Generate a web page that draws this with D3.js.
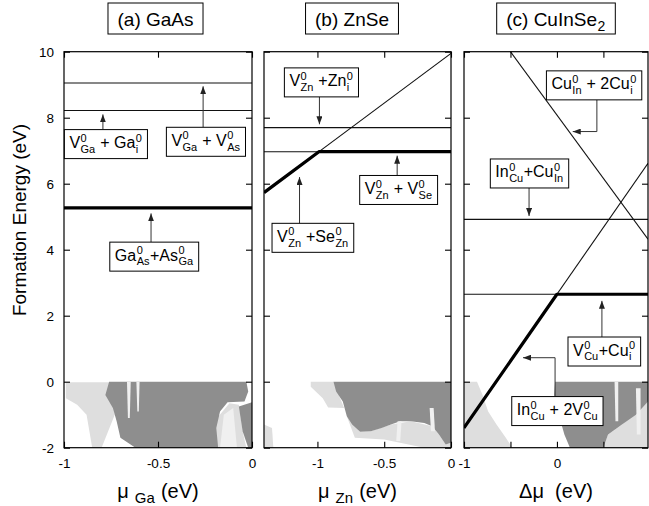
<!DOCTYPE html>
<html lang="en">
<head>
<meta charset="utf-8">
<style>
  body { margin: 0; background: #fff; }
  svg { font-family: 'Liberation Sans', Arial, sans-serif; background: #fff; }
  .frame { fill: none; stroke: #000; stroke-width: 1.2; }
  .tick line { stroke: #000; stroke-width: 1.1; }
  .tick text { font-size: 13.5px; fill: #000; }
  .domain { display: none; }
  .note-box { fill: #fff; stroke: #000; stroke-width: 1; }
  .pointer { fill: none; stroke: #333; stroke-width: 1; }
</style>
</head>
<body>
<div id="chart"></div>
<script src="https://d3js.org/d3.v7.min.js"></script>
<script>
// ---- data ----
const energyTicks = [-2, 0, 2, 4, 6, 8, 10];
const gaasTicks = [-1, -0.5, 0];
const znseTicks = [-1, -0.5, 0];
const cuinTicks = [-1, -0.5, 0, 0.5];
const cuinTickLabels = [-1, 0];

// (a) GaAs  (mu_Ga, eV)
const gaasVGaVAs = [[-1, 9.05], [0, 9.05]];
const gaasVGaGai = [[-1, 8.22], [0, 8.22]];
const gaasGaAsAsGa = [[-1, 5.27], [0, 5.27]];
const gaasGround = [[-1, 5.27], [0, 5.27]];

// (b) ZnSe  (mu_Zn, eV)
const znseVZnZni = [[-1.4, 7.7], [0, 7.7]];
const znseVZnVSe = [[-1.4, 6.97], [0, 6.97]];
const znseVZnSeZn = [[-1.4, 5.73], [0, 9.95]];
const znseGround = [[-1.4, 5.73], [-0.989, 6.97], [0, 6.97]];

// (c) CuInSe2  (delta mu, eV)
const cuinInCuCuIn = [[-1, 4.92], [0.98, 4.92]];
const cuinVCuCui = [[-1, 2.65], [0.98, 2.65]];
const cuinInCu2VCu = [[-1, -1.4], [0.98, 6.62]];
const cuinCuIn2Cui = [[-1, 11.92], [0.98, 4.32]];
const cuinGround = [[-1, -1.4], [0, 2.65], [0.98, 2.65]];

// scan speckle regions below 0 eV
const gaasDense = [[[-0.76, 0], [-0.03, 0], [-0.02, -0.3], [-0.04, -0.6], [-0.13, -0.62], [-0.17, -0.9], [-0.19, -1.4], [-0.18, -2], [-0.62, -2], [-0.7, -1.7], [-0.72, -1.2], [-0.74, -0.8], [-0.78, -0.4]],
                   [[-0.07, -0.75], [0, -0.62], [0, -2], [-0.02, -2], [-0.05, -1.5]]];
const gaasLight = [[[-0.99, -0.02], [-0.75, -0.02], [-0.73, -1.0], [-0.8, -2], [-0.85, -2], [-0.88, -1.0], [-0.93, -0.7], [-0.99, -0.5]],
                   [[-0.2, -1.2], [-0.12, -0.65], [-0.07, -0.7], [-0.05, -1.5], [-0.03, -2], [-0.19, -2]]];
const gaasGaps = [[[-0.665, 0], [-0.645, 0], [-0.65, -1.1], [-0.66, -1.1]],
                  [[-0.615, 0], [-0.598, 0], [-0.602, -0.9], [-0.61, -0.9]],
                  [[-0.15, -1.0], [-0.1, -0.8], [-0.08, -2], [-0.17, -2]]];

const znseDense = [[[-0.88, 0], [0, 0], [0, -1.85], [-0.04, -1.9], [-0.09, -1.6], [-0.14, -1.35], [-0.2, -1.25], [-0.3, -1.2], [-0.38, -1.2], [-0.45, -1.3], [-0.52, -1.4], [-0.6, -1.5], [-0.68, -1.52], [-0.74, -1.3], [-0.78, -1.05], [-0.81, -0.6], [-0.86, -0.3]]];
const znseLight = [[[-1.05, 0], [-0.88, 0], [-0.85, -0.3], [-0.8, -0.8], [-0.92, -0.78], [-0.96, -0.5], [-1.05, -0.15]],
                   [[-1.4, -1.3], [-1.34, -1.4], [-1.33, -2], [-1.4, -2]],
                   [[-0.78, -1.05], [-0.68, -1.52], [-0.6, -1.5], [-0.45, -1.3], [-0.3, -1.2], [-0.14, -1.35], [-0.09, -1.6], [-0.04, -1.9], [0, -1.85], [0, -2], [-0.2, -2], [-0.5, -1.75], [-0.72, -1.7]]];
const znseGaps = [[[-0.4, -1.2], [-0.37, -1.2], [-0.38, -1.8], [-0.41, -1.8]],
                  [[-0.16, -0.8], [-0.13, -0.8], [-0.12, -1.5], [-0.15, -1.5]]];

const cuinDense = [[[-0.02, 0], [0.98, 0], [0.98, -0.6], [0.85, -1.0], [0.7, -1.3], [0.55, -1.6], [0.5, -2], [0.14, -2], [0.08, -1.6], [0.02, -1.0], [-0.03, -0.4]]];
const cuinLight = [[[-1, 0], [-0.86, 0], [-0.8, -0.4], [-0.74, -0.9], [-0.65, -1.3], [-0.55, -1.7], [-0.48, -2], [-1, -2]],
                   [[0.7, -1.3], [0.98, -0.6], [0.98, -2], [0.5, -2], [0.55, -1.6]]];
const cuinGaps = [[[0.62, 0], [0.66, 0], [0.66, -1.2], [0.63, -1.2]],
                  [[0.85, -0.2], [0.9, -0.2], [0.9, -1.6], [0.86, -1.6]]];

// ---- layout ----
const W = 649, H = 506;
const yTop = 51.7, yBottom = 447.7;
const denseGray = "#8e8e8e", lightGray = "#dedede", gapGray = "#f0f0f0";

const svg = d3.select("#chart").append("svg")
  .attr("width", W).attr("height", H);

const defs = svg.append("defs");
defs.append("marker").attr("id", "head")
  .attr("viewBox", "0 0 8 6").attr("refX", 8).attr("refY", 3)
  .attr("markerWidth", 8).attr("markerHeight", 6)
  .attr("markerUnits", "userSpaceOnUse").attr("orient", "auto")
  .append("path").attr("d", "M0,0L8,3L0,6Z").attr("fill", "#222");

const y = d3.scaleLinear().domain([-2, 10]).range([yBottom, yTop]);

// text with stacked super/subscripts
function richText(g, parts, size, small) {
  const grp = g.append("g");
  let cx = 0;
  parts.forEach(p => {
    if (typeof p === "string") {
      const t = grp.append("text").attr("x", cx).attr("y", 0)
        .attr("font-size", size).style("white-space", "pre").text(p);
      cx += t.node().getComputedTextLength();
    } else {
      let w = 0;
      if (p.sup) {
        const t = grp.append("text").attr("x", cx + 0.5).attr("y", -size * 0.4)
          .attr("font-size", small).text(p.sup);
        w = Math.max(w, t.node().getComputedTextLength() + 0.5);
      }
      if (p.sub) {
        const t = grp.append("text").attr("x", cx + 0.5).attr("y", p.sup ? size * 0.3 : size * 0.25)
          .attr("font-size", small).text(p.sub);
        w = Math.max(w, t.node().getComputedTextLength() + 0.5);
      }
      cx += w + 0.5;
    }
  });
  return { grp, width: cx };
}

function drawPanel(cfg) {
  const x = d3.scaleLinear().domain(cfg.domain).range(cfg.range);
  const g = svg.append("g");
  const clipId = "clip-" + cfg.id;
  defs.append("clipPath").attr("id", clipId).append("rect")
    .attr("x", cfg.range[0]).attr("y", yTop)
    .attr("width", cfg.range[1] - cfg.range[0]).attr("height", yBottom - yTop);
  const inner = g.append("g").attr("clip-path", "url(#" + clipId + ")");
  const line = d3.line().x(d => x(d[0])).y(d => y(d[1]));

  cfg.light.forEach(p => inner.append("path").attr("d", line(p) + "Z").attr("fill", lightGray));
  cfg.dense.forEach(p => inner.append("path").attr("d", line(p) + "Z").attr("fill", denseGray));
  cfg.gaps.forEach(p => inner.append("path").attr("d", line(p) + "Z").attr("fill", gapGray));

  cfg.lines.forEach(l => inner.append("path").attr("d", line(l))
    .attr("fill", "none").attr("stroke", "#111").attr("stroke-width", 1.1));
  inner.append("path").attr("d", line(cfg.ground))
    .attr("fill", "none").attr("stroke", "#000").attr("stroke-width", 3.2)
    .attr("stroke-linejoin", "round");

  // frame + inward ticks
  g.append("rect").attr("class", "frame")
    .attr("x", cfg.range[0]).attr("y", yTop)
    .attr("width", cfg.range[1] - cfg.range[0]).attr("height", yBottom - yTop);

  g.append("g").attr("transform", `translate(0,${yBottom})`)
    .call(d3.axisBottom(x).tickValues(cfg.ticks).tickSize(-6).tickPadding(11)
      .tickFormat(d => cfg.labels.includes(d) ? String(d) : ""));
  g.append("g").attr("transform", `translate(0,${yTop})`)
    .call(d3.axisTop(x).tickValues(cfg.ticks).tickSize(-6).tickFormat(""));
  g.append("g").attr("transform", `translate(${cfg.range[0]},0)`)
    .call(d3.axisLeft(y).tickValues(energyTicks).tickSize(-6).tickPadding(10)
      .tickFormat(d => cfg.yLabels ? String(d) : ""));
  g.append("g").attr("transform", `translate(${cfg.range[1]},0)`)
    .call(d3.axisRight(y).tickValues(energyTicks).tickSize(-6).tickFormat(""));

  // title box
  const mid = (cfg.range[0] + cfg.range[1]) / 2 + cfg.titleShift;
  const tb = g.append("g");
  const tRect = tb.append("rect").attr("class", "note-box");
  const tt = richText(tb, cfg.title, 19, 14);
  tRect.attr("x", mid - tt.width / 2 - 9.5).attr("y", 3)
    .attr("width", tt.width + 19).attr("height", 31);
  tt.grp.attr("transform", `translate(${mid - tt.width / 2},26)`);

  // axis title
  const at = richText(g, cfg.axisTitle, 20, 15);
  at.grp.attr("transform", `translate(${(cfg.range[0] + cfg.range[1]) / 2 - at.width / 2},498)`);

  // annotations
  cfg.notes.forEach(n => {
    const ng = g.append("g");
    const cx = x(n.cx), cy = y(n.cy);
    const h = 29, top = cy - h / 2, bot = cy + h / 2;
    if (n.to !== undefined) {
      const start = y(n.to) < cy ? top : bot;
      ng.append("line").attr("class", "pointer")
        .attr("x1", x(n.ax)).attr("x2", x(n.ax))
        .attr("y1", start).attr("y2", y(n.to)).attr("marker-end", "url(#head)");
    } else {
      const start = y(n.elbow) < cy ? top : bot;
      ng.append("path").attr("class", "pointer")
        .attr("d", `M${x(n.ax)},${start}V${y(n.elbow)}H${x(n.toX)}`)
        .attr("marker-end", "url(#head)");
    }
    const box = ng.append("rect").attr("class", "note-box");
    const txt = richText(ng, n.parts, 16, 11);
    const w = txt.width + 10;
    box.attr("x", cx - w / 2).attr("y", top).attr("width", w).attr("height", h);
    txt.grp.attr("transform", `translate(${cx - txt.width / 2},${cy + 4})`);
  });
}

drawPanel({
  id: "a", domain: [-1, 0], range: [64, 252], ticks: gaasTicks, labels: gaasTicks, yLabels: true,
  lines: [gaasVGaVAs, gaasVGaGai, gaasGaAsAsGa], ground: gaasGround,
  dense: gaasDense, light: gaasLight, gaps: gaasGaps,
  title: ["(a) GaAs"], titleShift: -2.5,
  axisTitle: ["\u03bc ", { sub: "Ga" }, " (eV)"],
  notes: [
    { parts: ["V", { sup: "0", sub: "Ga" }, " + Ga", { sup: "0", sub: "i" }], cx: -0.777, cy: 7.2, ax: -0.793, to: 8.1 },
    { parts: ["V", { sup: "0", sub: "Ga" }, " + V", { sup: "0", sub: "As" }], cx: -0.245, cy: 7.27, ax: -0.26, to: 8.95 },
    { parts: ["Ga", { sup: "0", sub: "As" }, "+As", { sup: "0", sub: "Ga" }], cx: -0.52, cy: 3.79, ax: -0.537, to: 5.1 }
  ]
});

drawPanel({
  id: "b", domain: [-1.4, 0], range: [264, 451], ticks: znseTicks, labels: znseTicks, yLabels: false,
  lines: [znseVZnZni, znseVZnVSe, znseVZnSeZn], ground: znseGround,
  dense: znseDense, light: znseLight, gaps: znseGaps,
  title: ["(b) ZnSe"], titleShift: -5.5,
  axisTitle: ["\u03bc ", { sub: "Zn" }, " (eV)"],
  notes: [
    { parts: ["V", { sup: "0", sub: "Zn" }, " +Zn", { sup: "0", sub: "i" }], cx: -0.97, cy: 9.07, ax: -0.985, to: 7.8 },
    { parts: ["V", { sup: "0", sub: "Zn" }, " + V", { sup: "0", sub: "Se" }], cx: -0.392, cy: 5.81, ax: -0.403, to: 6.85 },
    { parts: ["V", { sup: "0", sub: "Zn" }, " +Se", { sup: "0", sub: "Zn" }], cx: -1.034, cy: 4.36, ax: -1.134, to: 6.2 }
  ]
});

drawPanel({
  id: "c", domain: [-1, 0.98], range: [464, 648], ticks: cuinTicks, labels: cuinTickLabels, yLabels: false,
  lines: [cuinInCuCuIn, cuinVCuCui, cuinInCu2VCu, cuinCuIn2Cui], ground: cuinGround,
  dense: cuinDense, light: cuinLight, gaps: cuinGaps,
  title: ["(c) CuInSe", { sub: "2" }], titleShift: 0,
  axisTitle: ["\u0394\u03bc  (eV)"],
  notes: [
    { parts: ["Cu", { sup: "0", sub: "In" }, " + 2Cu", { sup: "0", sub: "i" }], cx: 0.40, cy: 8.98, ax: 0.43, elbow: 7.58, toX: 0.17 },
    { parts: ["In", { sup: "0", sub: "Cu" }, "+Cu", { sup: "0", sub: "In" }], cx: -0.295, cy: 6.31, ax: -0.3, to: 5.02 },
    { parts: ["V", { sup: "0", sub: "Cu" }, "+Cu", { sup: "0", sub: "i" }], cx: 0.51, cy: 0.915, ax: 0.484, to: 2.45 },
    { parts: ["In", { sup: "0", sub: "Cu" }, " + 2V", { sup: "0", sub: "Cu" }], cx: 0.005, cy: -0.89, ax: -0.02, elbow: 0.727, toX: -0.365 }
  ]
});

// shared y title
svg.append("text")
  .attr("transform", "translate(26,220) rotate(-90)")
  .attr("text-anchor", "middle").attr("font-size", 19)
  .text("Formation Energy (eV)");
</script>
</body>
</html>
